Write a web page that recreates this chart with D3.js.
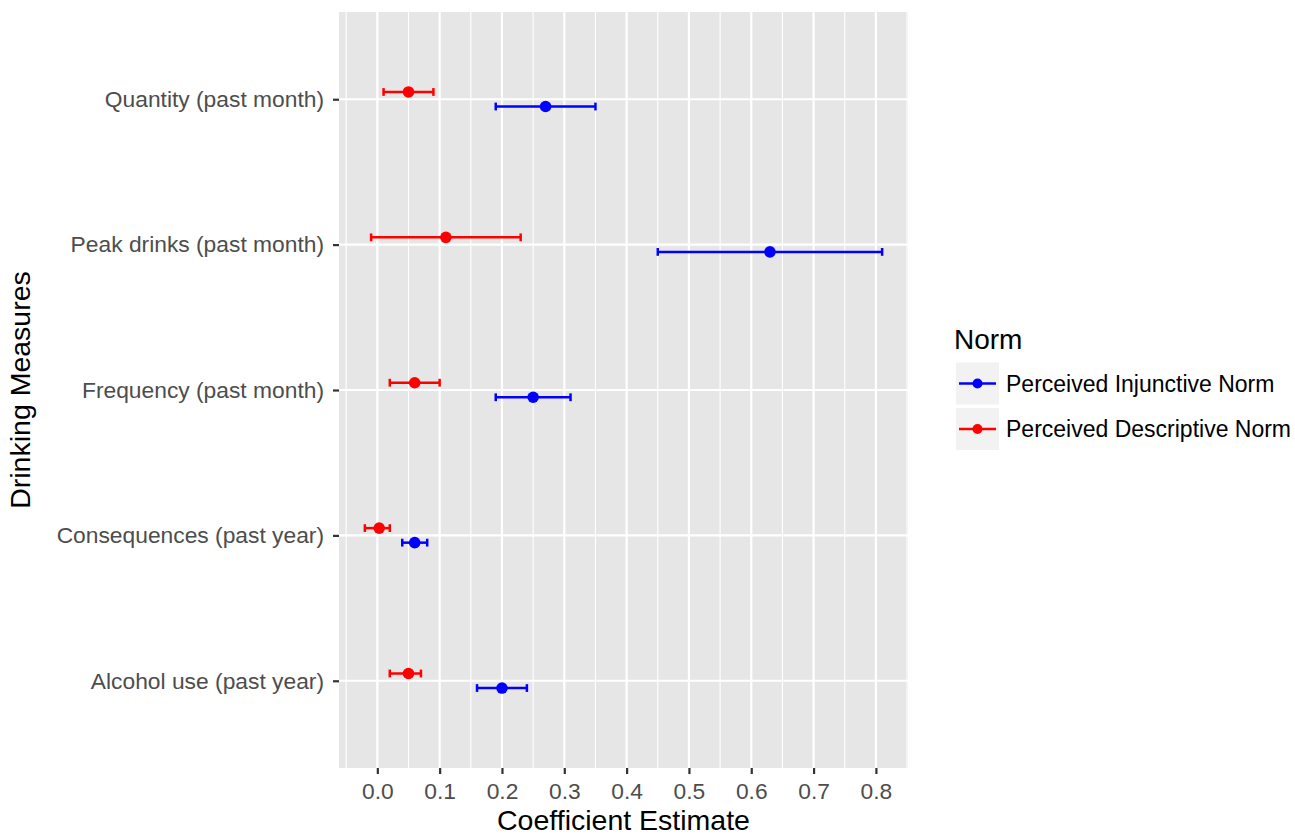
<!DOCTYPE html>
<html><head><meta charset="utf-8">
<script src="https://cdn.jsdelivr.net/npm/d3@7"></script>
<style>
body{margin:0;background:#fff;}
text{font-family:"Liberation Sans",Arial,Helvetica,sans-serif;}
</style>
</head><body><svg id="c" width="1295" height="836"></svg>
<script>
// ---- data ----
const categories = ["Quantity (past month)","Peak drinks (past month)","Frequency (past month)","Consequences (past year)","Alcohol use (past year)"];
const norms = ["Perceived Injunctive Norm","Perceived Descriptive Norm"];
const normColors = ["#0000FF","#FF0000"];
const injunctiveEst  = [0.27, 0.63, 0.25, 0.06, 0.20];
const injunctiveLow  = [0.19, 0.45, 0.19, 0.04, 0.16];
const injunctiveHigh = [0.35, 0.81, 0.31, 0.08, 0.24];
const descriptiveEst  = [0.05, 0.11, 0.06, 0.003, 0.05];
const descriptiveLow  = [0.01, -0.01, 0.02, -0.02, 0.02];
const descriptiveHigh = [0.09, 0.23, 0.10, 0.02, 0.07];
const xTicks = [0.0,0.1,0.2,0.3,0.4,0.5,0.6,0.7,0.8];
const xTickLabels = ["0.0","0.1","0.2","0.3","0.4","0.5","0.6","0.7","0.8"];
const xTitle = "Coefficient Estimate";
const yTitle = "Drinking Measures";
const legendTitle = "Norm";

const rows = [];
categories.forEach((c,i)=>{
  rows.push({cat:c, norm:0, est:injunctiveEst[i], lo:injunctiveLow[i], hi:injunctiveHigh[i]});
  rows.push({cat:c, norm:1, est:descriptiveEst[i], lo:descriptiveLow[i], hi:descriptiveHigh[i]});
});

// ---- layout ----
const P = {left:339, right:908, top:12, bottom:768};
const svg = d3.select("#c");

const lo = d3.min(rows, d=>d.lo), hi = d3.max(rows, d=>d.hi);
const pad = (hi-lo)*0.05;
const x = d3.scaleLinear().domain([lo-pad, hi+pad]).range([P.left, P.right]);
const y = d3.scalePoint().domain(categories).range([P.top, P.bottom]).padding(0.6);
const step = y.step();
const dodge = d => (d.norm===0 ? 1 : -1) * 0.05 * step;
const color = d3.scaleOrdinal().domain([0,1]).range(normColors);

// panel
svg.append("rect").attr("x",P.left).attr("y",P.top)
  .attr("width",P.right-P.left).attr("height",P.bottom-P.top).attr("fill","#E6E6E6");

svg.append("clipPath").attr("id","pc").append("rect")
  .attr("x",P.left).attr("y",P.top).attr("width",P.right-P.left).attr("height",P.bottom-P.top);
const g = svg.append("g").attr("clip-path","url(#pc)");

// minor gridlines
const minor = d3.range(xTicks.length+1).map(i => (i===0 ? xTicks[0]-0.05 : xTicks[i-1]+0.05));
g.selectAll(".minor").data(minor).enter().append("line")
  .attr("x1",d=>x(d)).attr("x2",d=>x(d)).attr("y1",P.top).attr("y2",P.bottom)
  .attr("stroke","#fff").attr("stroke-width",1.1);
// major gridlines
g.selectAll(".majx").data(xTicks).enter().append("line")
  .attr("x1",d=>x(d)).attr("x2",d=>x(d)).attr("y1",P.top).attr("y2",P.bottom)
  .attr("stroke","#fff").attr("stroke-width",2.2);
g.selectAll(".majy").data(categories).enter().append("line")
  .attr("y1",d=>y(d)).attr("y2",d=>y(d)).attr("x1",P.left).attr("x2",P.right)
  .attr("stroke","#fff").attr("stroke-width",2.2);

// error bars
const capH = 3.9;
const eb = g.selectAll(".eb").data(rows).enter().append("g")
  .attr("stroke",d=>color(d.norm)).attr("stroke-width",2.5);
eb.append("line").attr("x1",d=>x(d.lo)).attr("x2",d=>x(d.hi))
  .attr("y1",d=>y(d.cat)+dodge(d)).attr("y2",d=>y(d.cat)+dodge(d));
eb.append("line").attr("x1",d=>x(d.lo)).attr("x2",d=>x(d.lo))
  .attr("y1",d=>y(d.cat)+dodge(d)-capH).attr("y2",d=>y(d.cat)+dodge(d)+capH);
eb.append("line").attr("x1",d=>x(d.hi)).attr("x2",d=>x(d.hi))
  .attr("y1",d=>y(d.cat)+dodge(d)-capH).attr("y2",d=>y(d.cat)+dodge(d)+capH);
g.selectAll(".pt").data(rows).enter().append("circle")
  .attr("cx",d=>x(d.est)).attr("cy",d=>y(d.cat)+dodge(d)).attr("r",5.8)
  .attr("fill",d=>color(d.norm));

// x axis
const xa = svg.append("g").attr("transform",`translate(0,${P.bottom})`)
  .call(d3.axisBottom(x).tickValues(xTicks).tickFormat((d,i)=>xTickLabels[i]).tickSize(6).tickPadding(9));
xa.select(".domain").remove();
xa.selectAll(".tick line").attr("stroke","#333").attr("stroke-width",2.2);
xa.selectAll(".tick text").attr("fill","#4D4D4D").attr("font-size","22.8px")
  .attr("font-family","'Liberation Sans',Arial,sans-serif");

// y axis
const ya = svg.append("g").attr("transform",`translate(${P.left},0)`)
  .call(d3.axisLeft(y).tickSize(6).tickPadding(9));
ya.select(".domain").remove();
ya.selectAll(".tick line").attr("stroke","#333").attr("stroke-width",2.2);
ya.selectAll(".tick text").attr("fill","#4D4D4D").attr("font-size","22.8px")
  .attr("font-family","'Liberation Sans',Arial,sans-serif");

// titles
svg.append("text").attr("x",(P.left+P.right)/2).attr("y",830).attr("text-anchor","middle")
  .attr("font-size","28.5px").attr("fill","#000").text(xTitle);
svg.append("text").attr("transform",`translate(30,${(P.top+P.bottom)/2}) rotate(-90)`)
  .attr("text-anchor","middle").attr("font-size","28.5px").attr("fill","#000").text(yTitle);

// legend
const lg = svg.append("g");
lg.append("text").attr("x",954).attr("y",349).attr("font-size","28px").attr("fill","#000").text(legendTitle);
const keyY = [362.5, 408];
norms.forEach((n,i)=>{
  const ky = keyY[i];
  lg.append("rect").attr("x",956).attr("y",ky).attr("width",43).attr("height",42).attr("fill","#F2F2F2");
  lg.append("line").attr("x1",959).attr("x2",996).attr("y1",ky+21).attr("y2",ky+21)
    .attr("stroke",color(i)).attr("stroke-width",2.5);
  lg.append("circle").attr("cx",977.5).attr("cy",ky+21).attr("r",5).attr("fill",color(i));
  lg.append("text").attr("x",1006).attr("y",ky+29).attr("font-size","23px").attr("fill","#000").text(n);
});
</script>
</body></html>
